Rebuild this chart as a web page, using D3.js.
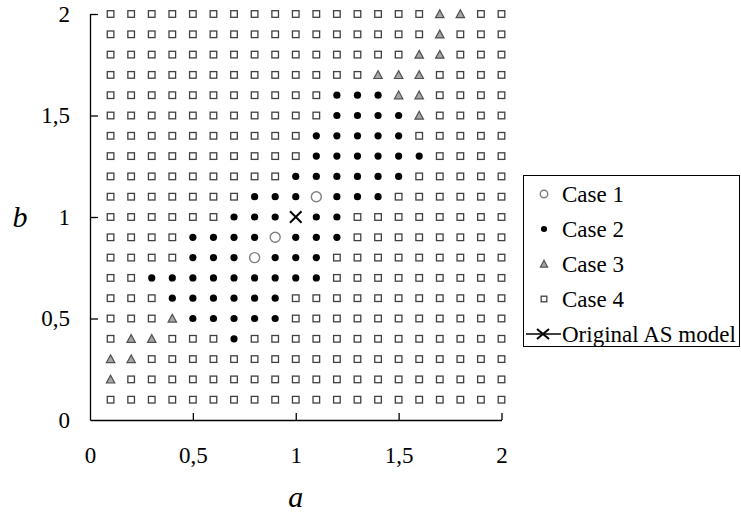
<!DOCTYPE html>
<html>
<head>
<meta charset="utf-8">
<script src="https://cdn.jsdelivr.net/npm/d3@7"></script>
<style>
  html, body { margin: 0; padding: 0; background: #fff; }
  svg { display: block; }
  text { font-family: "Liberation Serif", "Times New Roman", serif; fill: #000; }
</style>
</head>
<body>
<svg id="chart" width="741" height="516"></svg>
<script>
// ---- data ----
const aValues = [0.1,0.2,0.3,0.4,0.5,0.6,0.7,0.8,0.9,1.0,1.1,1.2,1.3,1.4,1.5,1.6,1.7,1.8,1.9,2.0];
const bValues = [2.0,1.9,1.8,1.7,1.6,1.5,1.4,1.3,1.2,1.1,1.0,0.9,0.8,0.7,0.6,0.5,0.4,0.3,0.2,0.1];
// case code per (b row, a column): 1..4 = Case 1..4, X = Original AS model
const caseRows = [
  "44444444444444443344",
  "44444444444444443444",
  "44444444444444433444",
  "44444444444443334444",
  "44444444444222334444",
  "44444444444222234444",
  "44444444442222244444",
  "44444444442222224444",
  "44444444422222244444",
  "44444442221222444444",
  "444444222X2244444444",
  "44442222122244444444",
  "44442221222444444444",
  "44222222222444444444",
  "44422222244444444444",
  "44432222244444444444",
  "43344424444444444444",
  "33444444444444444444",
  "34444444444444444444",
  "44444444444444444444"
];
const tickValues = [0, 0.5, 1, 1.5, 2];
const legendLabels = ["Case 1", "Case 2", "Case 3", "Case 4", "Original AS model"];
const legendCodes = ["1", "2", "3", "4", "X"];
const xTitle = "a";
const yTitle = "b";

// ---- build point table ----
const points = [];
caseRows.forEach((row, i) => {
  row.split("").forEach((c, j) => {
    points.push({ a: aValues[j], b: bValues[i], code: c });
  });
});

const svg = d3.select("#chart");
const x = d3.scaleLinear().domain([0, 2]).range([90, 501.5]);
const y = d3.scaleLinear().domain([0, 2]).range([420, 14]);
const fmt = d => String(d).replace(".", ",");

// axes
const gx = svg.append("g").attr("transform", "translate(0,420)")
  .call(d3.axisBottom(x).tickValues(tickValues).tickSizeInner(-7).tickSizeOuter(0).tickPadding(27).tickFormat(fmt));
const gy = svg.append("g").attr("transform", "translate(90,0)")
  .call(d3.axisLeft(y).tickValues(tickValues).tickSizeInner(-8).tickSizeOuter(0).tickPadding(20).tickFormat(fmt));
[gx, gy].forEach(g => {
  g.select(".domain").attr("stroke", "#000").attr("stroke-width", 1.3);
  g.selectAll(".tick line").attr("stroke", "#000").attr("stroke-width", 1.3);
  g.selectAll(".tick text").attr("font-size", 23).attr("font-family", "Liberation Serif, serif").attr("fill", "#000");
});
gx.selectAll(".tick").filter(d => d === 0).select("line").remove();
gy.selectAll(".tick").filter(d => d === 0).select("line").remove();

// axis titles
svg.append("text").attr("x", x(1)).attr("y", 507).attr("text-anchor", "middle")
  .attr("font-size", 30).attr("font-style", "italic").text(xTitle);
svg.append("text").attr("x", 20).attr("y", 227).attr("text-anchor", "middle")
  .attr("font-size", 30).attr("font-style", "italic").text(yTitle);

// marker drawers
function drawMarker(g, code, cx, cy, scale) {
  const s = scale || 1;
  if (code === "4") {
    const h = 3.3 * s;
    g.append("rect").attr("x", cx - h).attr("y", cy - h).attr("width", 2 * h).attr("height", 2 * h)
      .attr("fill", "#fff").attr("stroke", "#404040").attr("stroke-width", 1.3);
  } else if (code === "2") {
    g.append("circle").attr("cx", cx).attr("cy", cy).attr("r", 3.6 * s).attr("fill", "#000");
  } else if (code === "1") {
    g.append("circle").attr("cx", cx).attr("cy", cy).attr("r", 5 * s)
      .attr("fill", "#fff").attr("stroke", "#7f7f7f").attr("stroke-width", 1.4);
  } else if (code === "3") {
    const w = 4.2 * s, h = 3.6 * s;
    g.append("path").attr("d", `M${cx},${cy - h - 0.6}L${cx + w},${cy + h}L${cx - w},${cy + h}Z`)
      .attr("fill", "#a6a6a6").attr("stroke", "#505050").attr("stroke-width", 1.2);
  } else if (code === "X") {
    const w = 5.8 * s, h = 5.8 * s;
    g.append("path").attr("d", `M${cx - w},${cy - h}L${cx + w},${cy + h}M${cx - w},${cy + h}L${cx + w},${cy - h}`)
      .attr("stroke", "#000").attr("stroke-width", 2).attr("fill", "none");
  }
}

const gm = svg.append("g");
points.forEach(p => drawMarker(gm, p.code, x(p.a), y(p.b), 1));

// legend
const lg = svg.append("g");
lg.append("rect").attr("x", 523.5).attr("y", 175.5).attr("width", 216).attr("height", 171)
  .attr("fill", "#fff").attr("stroke", "#000").attr("stroke-width", 1);
legendLabels.forEach((lab, i) => {
  const cy = 194 + i * 35;
  const code = legendCodes[i];
  if (code === "X") {
    lg.append("line").attr("x1", 526).attr("x2", 561).attr("y1", cy).attr("y2", cy)
      .attr("stroke", "#000").attr("stroke-width", 1.5);
    lg.append("path").attr("d", `M${537},${cy - 5}L${549},${cy + 5}M${537},${cy + 5}L${549},${cy - 5}`)
      .attr("stroke", "#000").attr("stroke-width", 2);
  } else {
    drawMarker(lg, code, 544, cy, code === "1" ? 0.75 : 0.85);
  }
  lg.append("text").attr("x", 562).attr("y", cy + 7.5).attr("font-size", 23).text(lab);
});
</script>
</body>
</html>
